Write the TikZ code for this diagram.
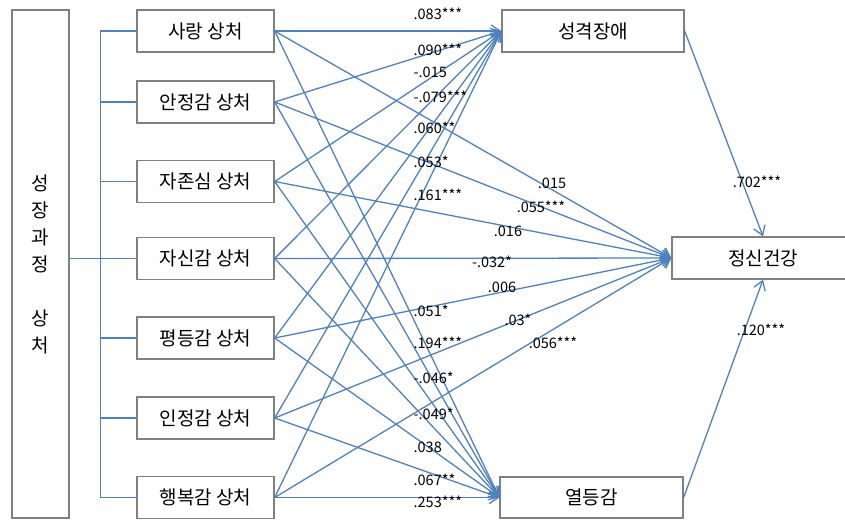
\documentclass[tikz,border=0pt]{standalone}
\usepackage{fontspec}
\setmainfont{Noto Sans CJK KR}
\usetikzlibrary{arrows.meta}

\definecolor{mycolor0}{RGB}{79,129,189}
\definecolor{mycolor1}{RGB}{128,128,128}

\begin{document}
\begin{tikzpicture}[x=1pt, y=-1pt, line width=1.3pt,
        box/.style={rectangle, draw=mycolor1, line width=1.3pt, fill=white,
        inner sep=0pt, minimum width=137pt, minimum height=42pt,
        font=\fontsize{19}{27}\selectfont},
        coef/.style={inner sep=0pt, font=\fontsize{14.5}{16}\selectfont},
        link/.style={draw=mycolor0, -{Straight Barb[length=9pt,width=12pt]}}
        ]
\useasboundingbox (0,0) rectangle (845,520);
            \node [box, minimum width=57pt, minimum height=508pt, align=center]
                (c_0) at (40.5,264) {성\\장\\과\\정\\[27pt]상\\처};
            \node [box] (w_1) at (205.5, 31) {사랑 상처};
            \node [box] (w_2) at (205.5, 102) {안정감 상처};
            \node [box] (w_3) at (205.5, 181.5) {자존심 상처};
            \node [box] (w_4) at (205.5, 258.5) {자신감 상처};
            \node [box] (w_5) at (205.5, 338) {평등감 상처};
            \node [box] (w_6) at (205.5, 418) {인정감 상처};
            \node [box] (w_7) at (205.5, 497.5) {행복감 상처};
            \node [box, minimum width=182pt] (m_p) at (593, 31) {성격장애};
            \node [box, minimum width=183pt, minimum height=41pt] (m_i) at (591.5, 497.5) {열등감};
            \node [box, minimum width=182pt] (o_h) at (763, 258) {정신건강};
    % bracket
    \draw [draw=mycolor0] (c_0.east |- w_4.west) -- (w_4.west);
    \draw [draw=mycolor0] (w_1.west) -- ++(-36,0) |- (w_7.west);
    \draw [draw=mycolor0] (w_2.west) -- ++(-36,0);
    \draw [draw=mycolor0] (w_3.west) -- ++(-36,0);
    \draw [draw=mycolor0] (w_5.west) -- ++(-36,0);
    \draw [draw=mycolor0] (w_6.west) -- ++(-36,0);
    % paths
    \draw [link] (w_1.east) -- (m_p.west);
    \draw [link] (w_2.east) -- (m_p.west);
    \draw [link] (w_3.east) -- (m_p.west);
    \draw [link] (w_4.east) -- (m_p.west);
    \draw [link] (w_5.east) -- (m_p.west);
    \draw [link] (w_6.east) -- (m_p.west);
    \draw [link] (w_7.east) -- (m_p.west);
    \draw [link] (w_1.east) -- (o_h.west);
    \draw [link] (w_2.east) -- (o_h.west);
    \draw [link] (w_3.east) -- (o_h.west);
    \draw [link] (w_4.east) -- (o_h.west);
    \draw [link] (w_5.east) -- (o_h.west);
    \draw [link] (w_6.east) -- (o_h.west);
    \draw [link] (w_7.east) -- (o_h.west);
    \draw [link] (w_1.east) -- (m_i.west);
    \draw [link] (w_2.east) -- (m_i.west);
    \draw [link] (w_3.east) -- (m_i.west);
    \draw [link] (w_4.east) -- (m_i.west);
    \draw [link] (w_5.east) -- (m_i.west);
    \draw [link] (w_6.east) -- (m_i.west);
    \draw [link] (w_7.east) -- (m_i.west);
    \draw [link] (m_p.east) -- (o_h.north);
    \draw [link] (m_i.east) -- (o_h.south);
    % coefficients
            \node [coef, anchor=west] (l_1) at (413, 14) {.083***};
            \node [coef, anchor=west] (l_2) at (413, 50) {.090***};
            \node [coef, anchor=west] (l_3) at (413, 72) {-.015};
            \node [coef, anchor=west] (l_4) at (413, 97) {-.079***};
            \node [coef, anchor=west] (l_5) at (413, 128) {.060**};
            \node [coef, anchor=west] (l_6) at (413, 162) {.053*};
            \node [coef, anchor=west] (l_7) at (413, 195) {.161***};
            \node [coef] (l_8) at (552, 183) {.015};
            \node [coef] (l_9) at (541, 207) {.055***};
            \node [coef] (l_10) at (508, 231) {.016};
            \node [coef] (l_11) at (492, 262) {-.032*};
            \node [coef] (l_12) at (502, 287) {.006};
            \node [coef, anchor=west] (l_13) at (413, 311) {.051*};
            \node [coef] (l_14) at (518, 320) {.03*};
            \node [coef, anchor=west] (l_15) at (413, 343) {.194***};
            \node [coef] (l_16) at (553, 343) {.056***};
            \node [coef, anchor=west] (l_17) at (413, 378) {-.046*};
            \node [coef, anchor=west] (l_18) at (413, 414) {-.049*};
            \node [coef, anchor=west] (l_19) at (413, 447) {.038};
            \node [coef, anchor=west] (l_20) at (413, 480) {.067**};
            \node [coef, anchor=west] (l_21) at (413, 502) {.253***};
            \node [coef] (l_22) at (757, 182) {.702***};
            \node [coef] (l_23) at (761, 330) {.120***};
\end{tikzpicture}
\end{document}
